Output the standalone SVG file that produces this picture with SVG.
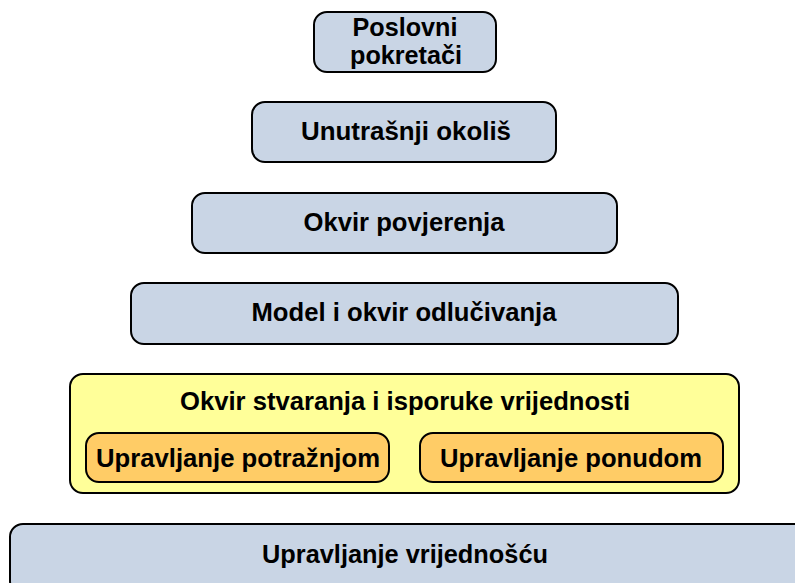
<svg xmlns="http://www.w3.org/2000/svg" width="795" height="583" viewBox="0 0 795 583">
<style>
.b{fill:#C9D5E5;stroke:#000;stroke-width:2}
.y{fill:#FFFF99;stroke:#000;stroke-width:2}
.o{fill:#FFCC66;stroke:#000;stroke-width:2}
text{font-family:"Liberation Sans",Arial,sans-serif;font-weight:bold;font-size:26px;fill:#000;text-anchor:middle}
</style>
<rect width="795" height="583" fill="#fff"/>
<g id="poslovni"><rect class="b" x="314" y="12" width="182" height="60" rx="13"/><text x="405" y="36" font-size="25" textLength="105" lengthAdjust="spacingAndGlyphs">Poslovni</text><text x="406" y="64" font-size="25" textLength="112" lengthAdjust="spacingAndGlyphs">pokretači</text></g>
<g id="unutrasnji"><rect class="b" x="252" y="102" width="304" height="60" rx="13"/><text x="406" y="140" textLength="210" lengthAdjust="spacingAndGlyphs">Unutrašnji okoliš</text></g>
<g id="povjerenje"><rect class="b" x="192" y="193" width="425" height="60" rx="13"/><text x="404" y="231" textLength="201" lengthAdjust="spacingAndGlyphs">Okvir povjerenja</text></g>
<g id="model"><rect class="b" x="131" y="283" width="547" height="61" rx="13"/><text x="404" y="321" textLength="305" lengthAdjust="spacingAndGlyphs">Model i okvir odlučivanja</text></g>
<g id="okvir"><rect class="y" x="70" y="374" width="669" height="119" rx="13"/><text x="405" y="410" font-size="24" textLength="450" lengthAdjust="spacingAndGlyphs">Okvir stvaranja i isporuke vrijednosti</text></g>
<g id="potraznja"><rect class="o" x="86" y="433" width="303" height="49" rx="13"/><text x="238" y="467" textLength="284" lengthAdjust="spacingAndGlyphs">Upravljanje potražnjom</text></g>
<g id="ponuda"><rect class="o" x="420" y="433" width="303" height="49" rx="13"/><text x="571" y="467" textLength="262" lengthAdjust="spacingAndGlyphs">Upravljanje ponudom</text></g>
<g id="vrijednost"><rect class="b" x="10" y="524" width="800" height="70" rx="13"/><text x="405" y="563" font-size="28" textLength="286" lengthAdjust="spacingAndGlyphs">Upravljanje vrijednošću</text></g>
<g id="connectors"/>
</svg>
